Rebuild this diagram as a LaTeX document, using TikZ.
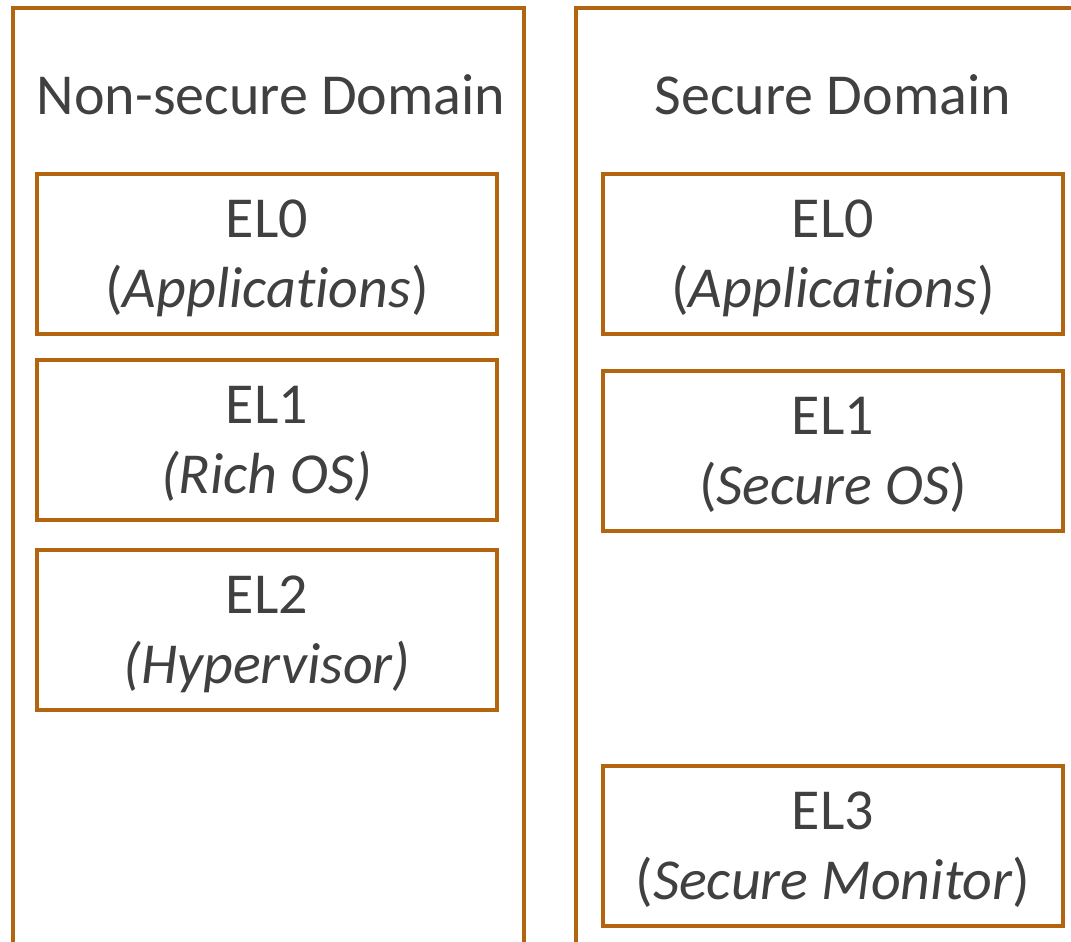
\documentclass[tikz,border=0pt]{standalone}
\usepackage{fontspec}
\setmainfont[Ligatures=NoCommon]{Carlito}
\definecolor{frame}{RGB}{178,100,14}
\definecolor{txt}{RGB}{64,64,64}
\begin{document}
\begin{tikzpicture}[x=1pt,y=-1pt,
  elbox/.style={draw=frame,line width=3.2pt,minimum width=460pt,minimum height=160pt,inner sep=0pt},
  eltext/.style={align=center,text=txt,font=\fontsize{58}{70}\selectfont,inner sep=0pt},
  title/.style={text=txt,font=\fontsize{58}{70}\selectfont,inner sep=0pt}]
\useasboundingbox (0,0) rectangle (1071,942);
\begin{scope}
\clip (0,0) rectangle (1071,942);
\draw[frame,line width=3.2pt] (13,960) -- (13,8) -- (524,8) -- (524,960);
\draw[frame,line width=3.2pt] (576,960) -- (576,8) -- (1090,8);
\end{scope}
\node[title] (nst) at (271,95) {Non-secure Domain};
\node[title] (st) at (833,95) {Secure Domain};
\node[elbox] (n0) at (267,254) {};
\node[elbox] (n1) at (267,440) {};
\node[elbox] (n2) at (267,630) {};
\node[elbox] (s0) at (833,254) {};
\node[elbox] (s1) at (833,451) {};
\node[elbox] (s3) at (833,846) {};
\node[eltext] (n0t) at ([yshift=-4pt]n0.center) {EL0\\(\textit{Applications})};
\node[eltext] (n1t) at ([yshift=-4pt]n1.center) {EL1\\\textit{(Rich OS)}};
\node[eltext] (n2t) at ([yshift=-4pt]n2.center) {EL2\\\textit{(Hypervisor)}};
\node[eltext] (s0t) at ([yshift=-4pt]s0.center) {EL0\\(\textit{Applications})};
\node[eltext] (s1t) at ([yshift=-4pt]s1.center) {EL1\\(\textit{Secure OS})};
\node[eltext] (s3t) at ([yshift=-4pt]s3.center) {EL3\\(\textit{Secure Monitor})};
\end{tikzpicture}
\end{document}
